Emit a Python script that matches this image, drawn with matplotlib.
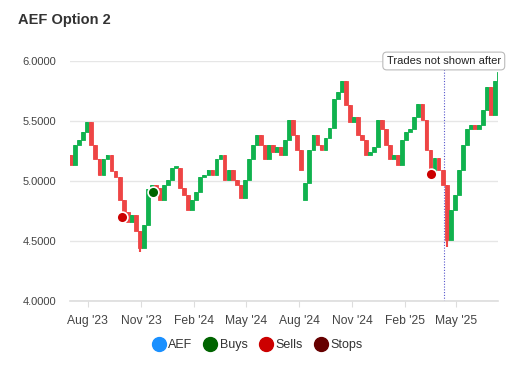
import pandas as pd
import matplotlib
matplotlib.use("Agg")
import matplotlib.pyplot as plt
import matplotlib.dates as mdates
from matplotlib.lines import Line2D

plt.rcParams["font.family"] = ["Liberation Sans", "DejaVu Sans"]

# weekly closes
closes = [5.13, 5.30, 5.34, 5.41, 5.49, 5.30, 5.18, 5.05, 5.18, 5.22,
          5.08, 5.03, 4.84, 4.74, 4.66, 4.72, 4.58, 4.44, 4.63, 4.93,
          4.97, 4.94, 4.84, 4.97, 5.01, 5.11, 5.11, 4.94, 4.88, 4.76,
          4.84, 4.91, 5.03, 5.05, 5.09, 5.05, 5.18, 5.22, 5.01, 5.09,
          5.01, 4.97, 4.86, 5.01, 5.18, 5.30, 5.38, 5.30, 5.18, 5.30,
          5.24, 5.28, 5.22, 5.34, 5.51, 5.38, 5.26, 5.09, 4.98, 5.26,
          5.38, 5.30, 5.26, 5.36, 5.44, 5.68, 5.74, 5.83, 5.63, 5.49,
          5.53, 5.38, 5.34, 5.22, 5.24, 5.28, 5.51, 5.43, 5.30, 5.18,
          5.22, 5.13, 5.34, 5.41, 5.43, 5.53, 5.64, 5.51, 5.26, 5.08,
          5.19, 5.09, 4.97, 4.51, 4.76, 4.88, 5.09, 5.30, 5.43, 5.47,
          5.43, 5.47, 5.59, 5.78, 5.55, 5.83, 5.91]
first_open = 5.22
gap_opens = {58: 4.84}
lows = {17: 4.41, 93: 4.45}

dates = pd.date_range("2023-07-03", periods=len(closes), freq="7D")

buy_dates = ["2023-11-22"]
buy_prices = [4.91]
sell_dates = ["2023-09-29", "2025-03-18"]
sell_prices = [4.70, 5.06]
cutoff_date = "2025-04-09"

green = "#10b24e"
red = "#ee4545"

opens = [first_open] + closes[:-1]
for k, v in gap_opens.items():
    opens[k] = v

fig = plt.figure(figsize=(5.3, 3.8), dpi=100)
ax = fig.add_axes([70 / 530, 1 - 301 / 380, 428 / 530, 240 / 380])

xs = mdates.date2num(dates)
for i in range(len(closes)):
    o, c = opens[i], closes[i]
    col = green if c >= o else red
    lo = lows.get(i, min(o, c))
    ax.vlines(xs[i], lo, max(o, c), color=col, lw=1.5, zorder=2)
    ax.bar(xs[i], max(abs(c - o), 0.015), bottom=min(o, c), width=6.6,
           color=col, edgecolor=col, linewidth=0.6, zorder=3)

ax.scatter(mdates.datestr2num(buy_dates), buy_prices, s=60, color="#006400",
           edgecolor="white", linewidth=1.2, zorder=5)
ax.scatter(mdates.datestr2num(sell_dates), sell_prices, s=60, color="#cc0000",
           edgecolor="white", linewidth=1.2, zorder=5)

cx = mdates.datestr2num(cutoff_date)
ax.axvline(cx, color="#5555cc", lw=0.8, ls=(0, (1, 1.5)), zorder=1)
ax.text(cx, 6.0, "Trades not shown after", ha="center", va="center",
        fontsize=8, color="#222222", zorder=6, clip_on=False,
        bbox=dict(boxstyle="round,pad=0.35", fc="white", ec="#bbbbbb", lw=0.8))

ax.set_xlim(mdates.datestr2num("2023-07-01"), mdates.datestr2num("2025-07-12"))
ax.set_ylim(4.0, 6.0)
ax.set_yticks([4.0, 4.5, 5.0, 5.5, 6.0])
ax.yaxis.set_major_formatter(matplotlib.ticker.FormatStrFormatter("%.4f"))
ax.xaxis.set_major_locator(mdates.MonthLocator(bymonth=[2, 5, 8, 11]))
ax.xaxis.set_major_formatter(mdates.DateFormatter("%b '%y"))
ax.grid(axis="y", color="#e6e6e6", lw=1, zorder=0)
ax.set_axisbelow(True)
for s in ["top", "right", "left"]:
    ax.spines[s].set_visible(False)
ax.spines["bottom"].set_color("#dddddd")
ax.spines["bottom"].set_linewidth(1.2)
ax.tick_params(axis="y", length=0, labelsize=8, labelcolor="#444444", pad=10)
ax.tick_params(axis="x", length=4, color="#dddddd", labelsize=8.7,
               labelcolor="#444444", pad=6)

fig.text(18 / 530, 1 - 20 / 380, "AEF Option 2", fontsize=10.5, fontweight="bold",
         color="#333333", va="center")

handles = [Line2D([], [], marker="o", ls="", ms=10, color=c, label=l)
           for c, l in [("#1a90ff", "AEF"), ("#006400", "Buys"),
                        ("#cc0000", "Sells"), ("#660000", "Stops")]]
fig.legend(handles=handles, loc="center", bbox_to_anchor=(258 / 530, 1 - 345 / 380),
           ncol=4, frameon=False, fontsize=9, handletextpad=0.35,
           columnspacing=1.05, handlelength=0.8, labelcolor="#333333")

fig.savefig("out.png", dpi=100)
